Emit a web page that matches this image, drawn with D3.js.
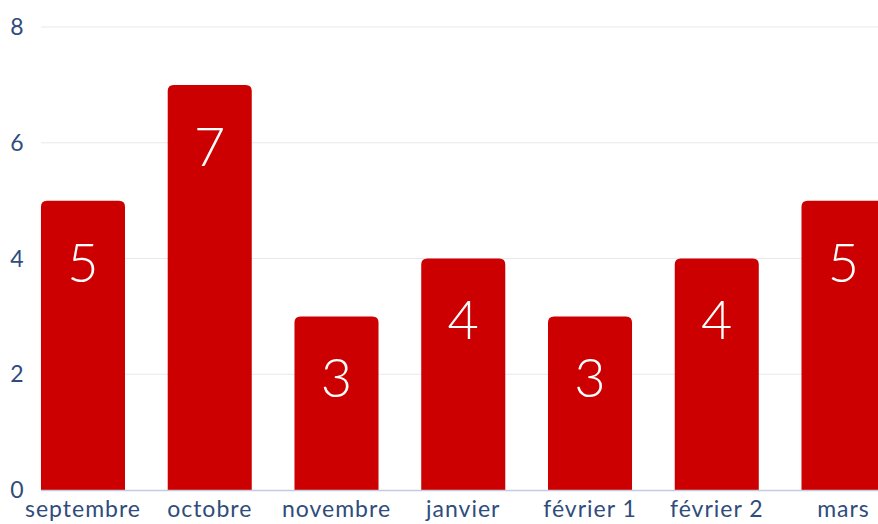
<!DOCTYPE html>
<html>
<head>
<meta charset="utf-8">
<script src="https://cdn.jsdelivr.net/npm/d3@7"></script>
<style>
  html, body { margin: 0; padding: 0; background: #fff; overflow: hidden; }
  text { font-family: "Lato", "Open Sans", sans-serif; }
</style>
</head>
<body>
<svg id="chart"></svg>
<script>
// dati
const mois = ["septembre", "octobre", "novembre", "janvier", "février 1", "février 2", "mars"];
const valeurs = [5, 7, 3, 4, 3, 4, 5];
const ticksY = [0, 2, 4, 6, 8];

const width = 878, height = 524;
const svg = d3.select("#chart").attr("width", width).attr("height", height);

const x = d3.scaleBand()
    .domain(mois)
    .range([19.6, 906.9])
    .paddingInner(0.337)
    .paddingOuter(0.1685);

const y = d3.scaleLinear()
    .domain([0, 8])
    .range([490, 27]);

// griglia
svg.append("g")
    .selectAll("line")
    .data(ticksY.filter(t => t > 0))
    .enter()
    .append("line")
    .attr("x1", 41)
    .attr("x2", width)
    .attr("y1", d => y(d))
    .attr("y2", d => y(d))
    .attr("stroke", "#e6e8ee")
    .attr("stroke-width", 1);

// etichette asse y
svg.append("g")
    .selectAll("text")
    .data(ticksY)
    .enter()
    .append("text")
    .attr("x", 17)
    .attr("y", d => y(d))
    .attr("dy", "0.35em")
    .attr("text-anchor", "middle")
    .attr("font-size", 23)
    .attr("fill", "#2f4c7c")
    .text(d => d);

// barre con angoli arrotondati in alto
const r = 6;
function barPath(d, i) {
    const x0 = x(mois[i]), w = x.bandwidth();
    const top = y(d), bottom = y(0);
    return "M" + x0 + "," + bottom +
        " V" + (top + r) +
        " Q" + x0 + "," + top + " " + (x0 + r) + "," + top +
        " H" + (x0 + w - r) +
        " Q" + (x0 + w) + "," + top + " " + (x0 + w) + "," + (top + r) +
        " V" + bottom + " Z";
}

svg.append("g")
    .selectAll("path")
    .data(valeurs)
    .enter()
    .append("path")
    .attr("d", barPath)
    .attr("fill", "#cc0000");

// valori
svg.append("g")
    .selectAll("text")
    .data(valeurs)
    .enter()
    .append("text")
    .attr("x", (d, i) => x(mois[i]) + x.bandwidth() / 2)
    .attr("y", d => y(d) + 62)
    .attr("dy", "0.35em")
    .attr("text-anchor", "middle")
    .attr("font-size", 54)
    .attr("font-weight", 300)
    .attr("fill", "#ffffff")
    .text(d => d);

// asse x
svg.append("line")
    .attr("x1", 41)
    .attr("x2", width)
    .attr("y1", y(0) + 0.5)
    .attr("y2", y(0) + 0.5)
    .attr("stroke", "#c3cbdd")
    .attr("stroke-width", 1.5);

svg.append("g")
    .selectAll("text")
    .data(mois)
    .enter()
    .append("text")
    .attr("x", d => x(d) + x.bandwidth() / 2)
    .attr("y", 517)
    .attr("text-anchor", "middle")
    .attr("font-size", 23)
    .attr("letter-spacing", 1)
    .attr("fill", "#2f4c7c")
    .text(d => d);
</script>
</body>
</html>
